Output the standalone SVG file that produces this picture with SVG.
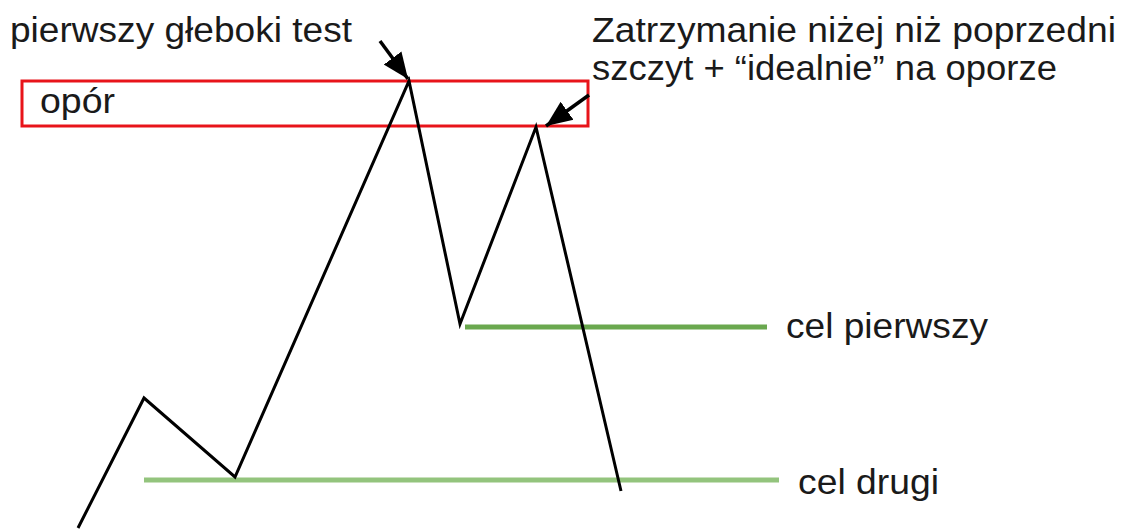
<svg xmlns="http://www.w3.org/2000/svg" width="1122" height="529" viewBox="0 0 1122 529">
<style>
.t{font-family:"Liberation Sans",Arial,sans-serif;font-size:35px;fill:#1a1a1a}
.price{fill:none;stroke:#000;stroke-width:3;stroke-linejoin:miter}
.arr{fill:none;stroke:#000;stroke-width:3.5}
</style>
<defs>
<marker id="ah" markerUnits="userSpaceOnUse" markerWidth="28" markerHeight="24" refX="26" refY="12" orient="auto">
<path d="M0,1 L26,12 L0,23 Z" fill="#000"/>
</marker>
</defs>
<rect width="1122" height="529" fill="#fff"/>
<g id="opor">
<rect x="22" y="81" width="566" height="45" fill="none" stroke="#e8141a" stroke-width="3"/>
<text class="t" x="40" y="113" textLength="75" lengthAdjust="spacingAndGlyphs">opór</text>
</g>
<g id="targets">
<line x1="465" y1="327" x2="767" y2="327" stroke="#6aa84f" stroke-width="5"/>
<line x1="144" y1="480" x2="779" y2="480" stroke="#93c47d" stroke-width="5"/>
</g>
<g id="label-test">
<text class="t" x="10" y="42" textLength="342" lengthAdjust="spacingAndGlyphs">pierwszy głeboki test</text>
</g>
<g id="label-zatrzymanie">
<text class="t" x="592" y="42" textLength="524" lengthAdjust="spacingAndGlyphs">Zatrzymanie niżej niż poprzedni</text>
<text class="t" x="592" y="80" textLength="465" lengthAdjust="spacingAndGlyphs">szczyt + “idealnie” na oporze</text>
</g>
<g id="label-cel1">
<text class="t" x="786" y="338" textLength="202" lengthAdjust="spacingAndGlyphs">cel pierwszy</text>
</g>
<g id="label-cel2">
<text class="t" x="798" y="494" textLength="141" lengthAdjust="spacingAndGlyphs">cel drugi</text>
</g>
<g id="connectors">
<polyline class="price" points="78,528 144,398 235,477 409,81 460,324 536,127 621,491"/>
<line class="arr" x1="380" y1="41" x2="408" y2="79" marker-end="url(#ah)"/>
<line class="arr" x1="589" y1="95" x2="546" y2="126" marker-end="url(#ah)"/>
</g>
</svg>
